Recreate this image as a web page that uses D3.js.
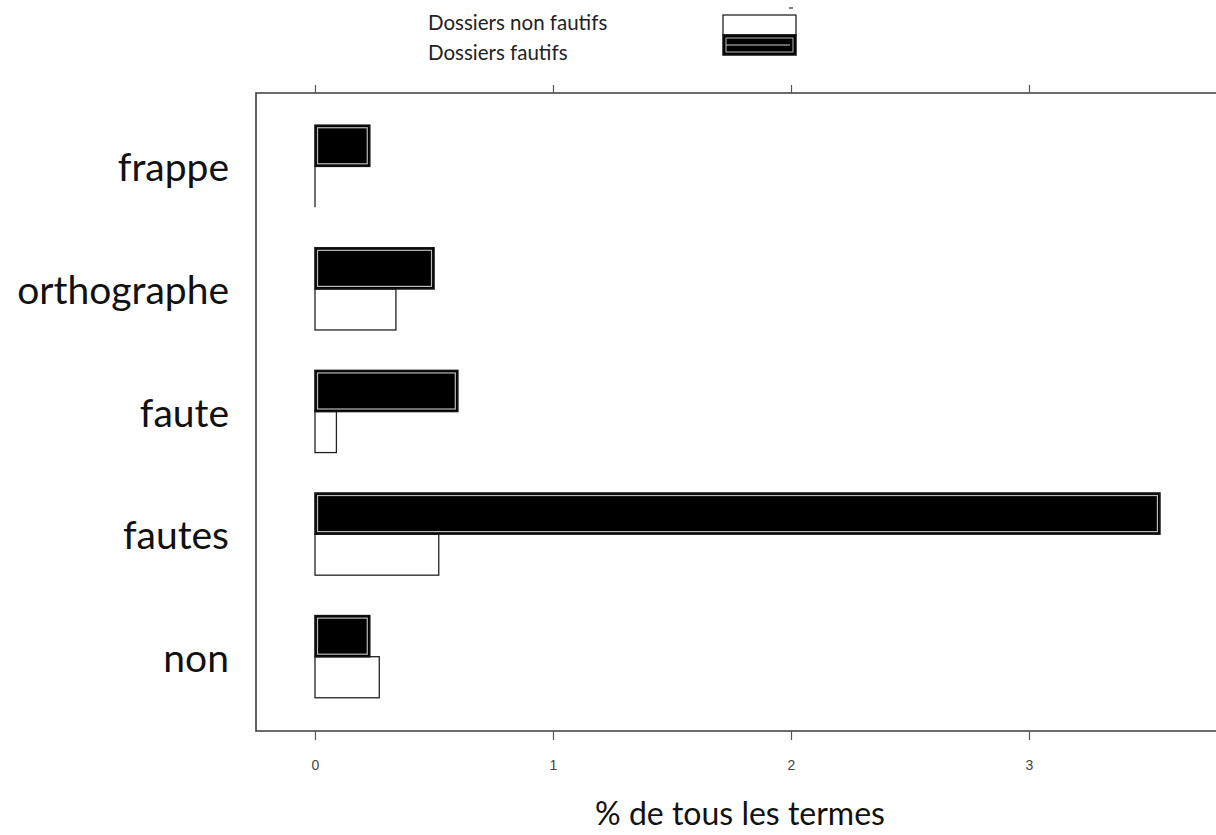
<!DOCTYPE html>
<html><head><meta charset="utf-8">
<script src="https://cdn.jsdelivr.net/npm/d3@7"></script>
<style>body{margin:0;background:#fff;} svg{display:block;}</style>
</head><body>
<script>
const categories = ["frappe","orthographe","faute","fautes","non"];
const seriesNames = ["Dossiers fautifs","Dossiers non fautifs"];
const fautifs = [0.23, 0.50, 0.60, 3.55, 0.23];
const nonFautifs = [0.00, 0.34, 0.09, 0.52, 0.27];
const tickValues = [0, 1, 2, 3];
const xTitle = "% de tous les termes";

const W = 1216, H = 835;
const svg = d3.select("body").append("svg").attr("width", W).attr("height", H);

const x = d3.scaleLinear().domain([0, 1]).range([315, 553]);
const y = d3.scaleBand().domain(categories).range([105, 718]).paddingInner(0.33).paddingOuter(0.165);
const ys = d3.scaleBand().domain(seriesNames).range([0, y.bandwidth()]);

const frame = {left: 256, top: 93, bottom: 731, right: W + 5};
const fc = "#3a3a3a";
svg.append("path")
  .attr("d", `M${frame.right},${frame.top}H${frame.left}V${frame.bottom}H${frame.right}`)
  .attr("fill", "none").attr("stroke", fc).attr("stroke-width", 1.6);

// bottom axis
const bAxis = svg.append("g").attr("transform", `translate(0,${frame.bottom})`)
  .call(d3.axisBottom(x).tickValues(tickValues).tickSize(9).tickPadding(20).tickFormat(d3.format("d")));
bAxis.select(".domain").remove();
bAxis.selectAll("line").attr("stroke", "#555").attr("stroke-width", 1.2);
bAxis.selectAll("text").attr("font-family", "Liberation Sans, Arial, sans-serif").attr("font-size", 14).attr("fill", "#444");

// top axis (ticks only)
const tAxis = svg.append("g").attr("transform", `translate(0,${frame.top})`)
  .call(d3.axisTop(x).tickValues(tickValues).tickSize(8).tickFormat(""));
tAxis.select(".domain").remove();
tAxis.selectAll("line").attr("stroke", "#555").attr("stroke-width", 1.2);

// bars
const rows = categories.map((c, i) => ({c, f: fautifs[i], n: nonFautifs[i]}));
const g = svg.append("g");
rows.forEach(r => {
  const y0 = y(r.c);
  const ny = y0 + ys(seriesNames[1]), nw = x(r.n) - x(0);
  if (nw > 0.5) {
    g.append("rect")
      .attr("x", x(0)).attr("y", ny)
      .attr("width", nw).attr("height", ys.bandwidth())
      .attr("fill", "#fff").attr("stroke", "#222").attr("stroke-width", 1.3);
  } else {
    g.append("line").attr("x1", x(r.n)).attr("x2", x(r.n)).attr("y1", ny).attr("y2", ny + ys.bandwidth())
      .attr("stroke", "#222").attr("stroke-width", 1.3);
  }
  // fautifs (black with double border)
  const bx = x(0), by = y0 + ys(seriesNames[0]), bw = x(r.f) - x(0), bh = ys.bandwidth();
  g.append("rect").attr("x", bx).attr("y", by).attr("width", bw).attr("height", bh)
    .attr("fill", "#000").attr("stroke", "#111").attr("stroke-width", 1.6);
  g.append("rect").attr("x", bx + 2.5).attr("y", by + 2.5).attr("width", Math.max(0, bw - 5)).attr("height", bh - 5)
    .attr("fill", "none").attr("stroke", "#bbb").attr("stroke-width", 1.2);
  g.append("rect").attr("x", bx + 5).attr("y", by + 5).attr("width", Math.max(0, bw - 10)).attr("height", bh - 10)
    .attr("fill", "#000");
});

// category labels
svg.append("g").selectAll("text").data(categories).join("text")
  .attr("x", 229).attr("y", d => y(d) + y.bandwidth() / 2)
  .attr("text-anchor", "end").attr("dominant-baseline", "central")
  .attr("font-family", "Lato, 'Open Sans', sans-serif").attr("font-size", 39).attr("fill", "#111")
  .text(d => d);

// x title
svg.append("text").attr("x", 740).attr("y", 825).attr("text-anchor", "middle")
  .attr("font-family", "Lato, 'Open Sans', sans-serif").attr("font-size", 32).attr("fill", "#111")
  .text(xTitle);

// legend
const lg = svg.append("g");
lg.append("text").attr("x", 428).attr("y", 30).attr("font-family", "Lato, 'Open Sans', sans-serif")
  .attr("font-size", 20.5).attr("fill", "#222").text(seriesNames[1]);
lg.append("text").attr("x", 428).attr("y", 60).attr("font-family", "Lato, 'Open Sans', sans-serif")
  .attr("font-size", 20.5).attr("fill", "#222").text(seriesNames[0]);
lg.append("rect").attr("x", 723).attr("y", 15).attr("width", 73).attr("height", 20)
  .attr("fill", "#fff").attr("stroke", "#222").attr("stroke-width", 1.3);
lg.append("rect").attr("x", 723).attr("y", 35).attr("width", 73).attr("height", 20)
  .attr("fill", "#000").attr("stroke", "#111").attr("stroke-width", 1.5);
lg.append("rect").attr("x", 726).attr("y", 38).attr("width", 67).attr("height", 14)
  .attr("fill", "none").attr("stroke", "#bbb").attr("stroke-width", 1);
lg.append("line").attr("x1", 726).attr("x2", 790).attr("y1", 45).attr("y2", 45)
  .attr("stroke", "#ccc").attr("stroke-width", 1);
lg.append("line").attr("x1", 789).attr("x2", 793).attr("y1", 8).attr("y2", 8)
  .attr("stroke", "#333").attr("stroke-width", 1.2);
</script>
</body></html>
